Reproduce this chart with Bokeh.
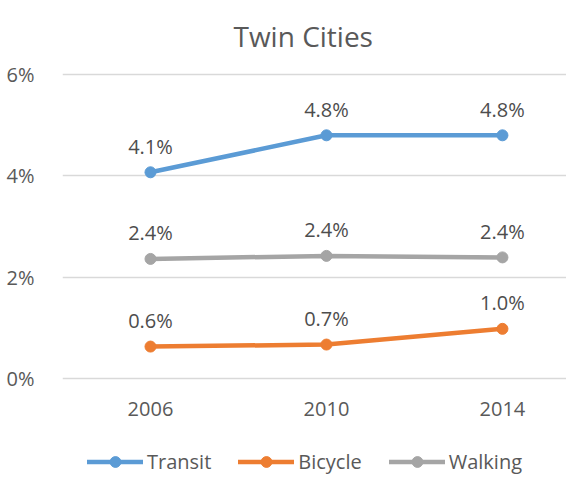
from bokeh.plotting import figure
from bokeh.layouts import column
from bokeh.models import (ColumnDataSource, Range1d, FixedTicker, PrintfTickFormatter,
                          Legend, LegendItem)
from bokeh.embed import file_html
from bokeh.resources import INLINE
from bokeh.core.properties import value

title_text = "Twin Cities"
years = ["2006", "2010", "2014"]
transit = [4.07, 4.80, 4.80]
bicycle = [0.63, 0.67, 0.98]
walking = [2.36, 2.42, 2.39]
y_ticks = [0, 2, 4, 6]

series = [
    ("Transit", transit, "#5B9BD5"),
    ("Bicycle", bicycle, "#ED7D31"),
    ("Walking", walking, "#A5A5A5"),
]

FONT = "Open Sans"
TXT = "#595959"

p = figure(frame_width=504, frame_height=312, output_backend="svg", toolbar_location=None,
           x_range=Range1d(-0.5, 2.364), y_range=Range1d(-0.079, 6.079),
           min_border_left=62, min_border_right=0, min_border_top=70,
           min_border_bottom=42)

p.title.text = title_text
p.title.align = "left"
p.title.offset = 171
p.title.vertical_align = "top"
p.title.standoff = 28
p.title.text_font = FONT
p.title.text_font_size = "28px"
p.title.text_font_style = "normal"
p.title.text_color = TXT

p.outline_line_color = None
p.background_fill_color = "white"
p.border_fill_color = "white"

p.xgrid.visible = False
p.ygrid.grid_line_color = "#D9D9D9"
p.ygrid.grid_line_width = 1.5
p.ygrid.ticker = FixedTicker(ticks=y_ticks)

p.yaxis.ticker = FixedTicker(ticks=y_ticks)
p.yaxis.formatter = PrintfTickFormatter(format="%d%%")
p.yaxis.axis_line_color = None
p.yaxis.major_tick_line_color = None
p.yaxis.minor_tick_line_color = None
p.yaxis.major_label_standoff = 22
p.yaxis.major_label_text_font = FONT
p.yaxis.major_label_text_font_size = "20px"
p.yaxis.major_label_text_color = TXT

xs = list(range(len(years)))
p.xaxis.ticker = FixedTicker(ticks=xs)
p.xaxis.major_label_overrides = {i: y for i, y in enumerate(years)}
p.xaxis.axis_line_color = None
p.xaxis.major_tick_line_color = None
p.xaxis.minor_tick_line_color = None
p.xaxis.major_label_standoff = 13
p.xaxis.major_label_text_font = FONT
p.xaxis.major_label_text_font_size = "20px"
p.xaxis.major_label_text_color = TXT

# legend strip (separate small figure so the legend is not clipped);
# its own view range is away from the data, so only the legend shows
q = figure(width=566, height=59, output_backend="svg", toolbar_location=None,
           x_range=Range1d(100, 101), y_range=Range1d(100, 101),
           x_axis_location=None, y_axis_location=None,
           min_border_left=0, min_border_right=0, min_border_top=0,
           min_border_bottom=0)
q.outline_line_color = None
q.grid.visible = False
q.background_fill_color = "white"
q.border_fill_color = "white"

items = []
for name, vals, color in series:
    src = ColumnDataSource(dict(x=xs, y=vals, lab=["%.1f%%" % v for v in vals]))
    p.line("x", "y", source=src, line_color=color, line_width=4.5,
           line_join="round", line_cap="round")
    p.scatter("x", "y", source=src, size=11, fill_color=color, line_color=color)
    p.text("x", "y", text="lab", source=src, text_align="center",
           text_baseline="alphabetic", y_offset=-26, text_font=value(FONT),
           text_font_size="20px", text_color="#4D4D4D")
    ln = q.line("x", "y", source=src, line_color=color, line_width=4.5, line_cap="round")
    sc = q.scatter("x", "y", source=src, size=11, fill_color=color, line_color=color)
    items.append(LegendItem(label=name, renderers=[ln, sc]))

legend = Legend(items=items, orientation="horizontal", location=(25, 8),
                glyph_width=56, glyph_height=27, label_height=27,
                label_standoff=4, spacing=27,
                padding=0, margin=0, border_line_color=None,
                background_fill_alpha=0,
                label_text_font=FONT, label_text_font_size="20px",
                label_text_color=TXT)
q.add_layout(legend, "center")

layout = column(p, q, spacing=0)
open("out.html", "w").write(file_html(layout, INLINE))
